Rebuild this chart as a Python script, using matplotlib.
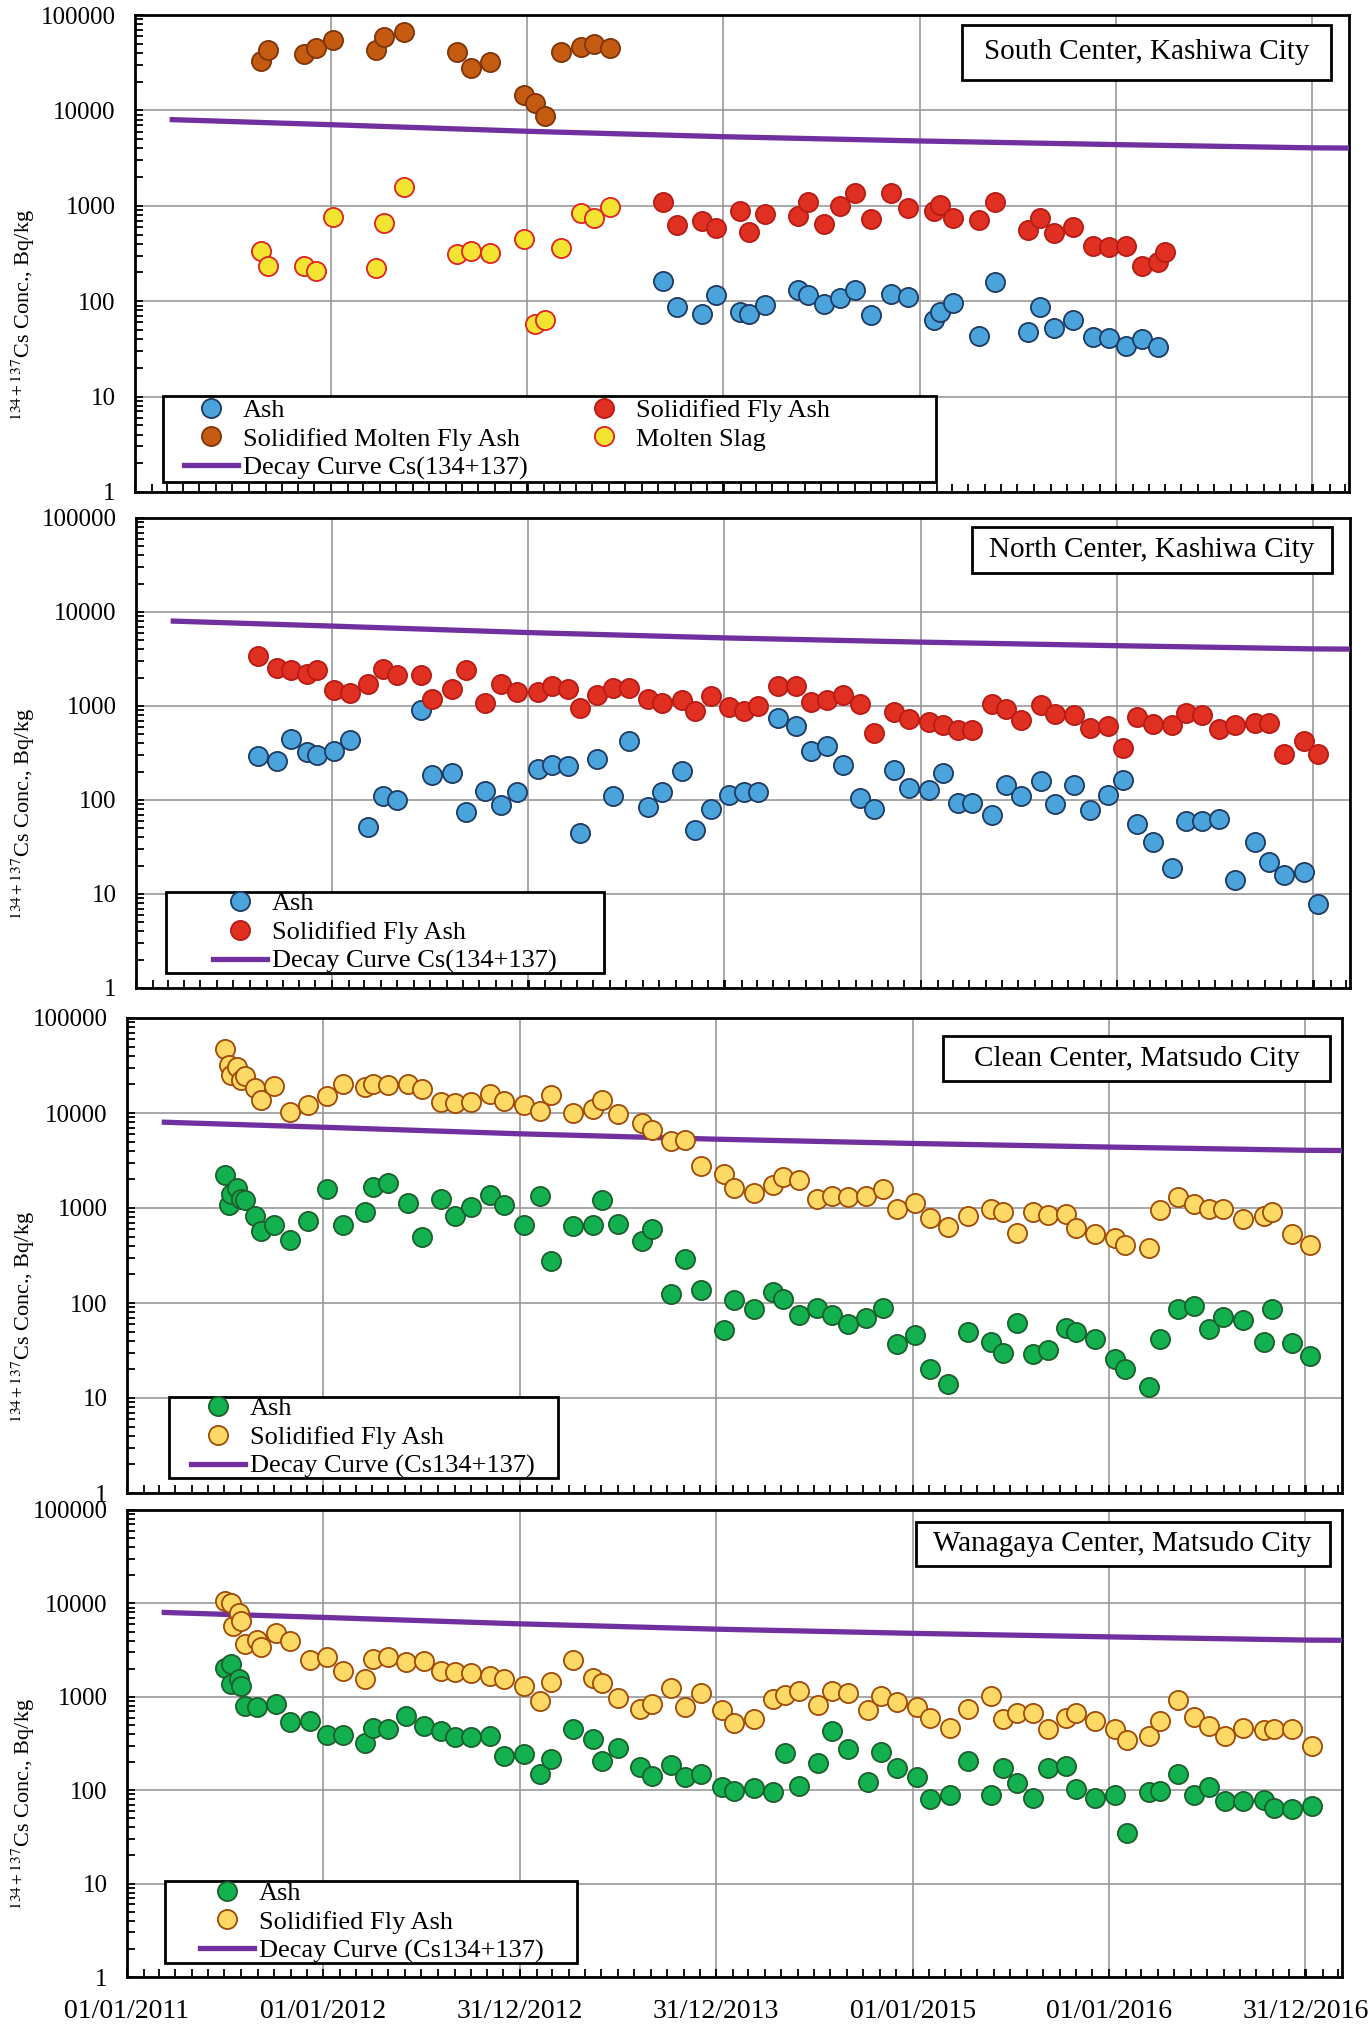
import numpy as np
import matplotlib
matplotlib.use('Agg')
import matplotlib.pyplot as plt
import matplotlib.dates as mdates
import matplotlib.ticker as mticker
from matplotlib.patches import Rectangle
from datetime import datetime

plt.rcParams['font.family'] = ['Liberation Serif', 'DejaVu Serif']
plt.rcParams['mathtext.fontset'] = 'stix'

# sampling times are given as decimal years
# ---- South Center, Kashiwa City ----
south_slag_t = [2011.64, 2011.68, 2011.86, 2011.92, 2012.01, 2012.23, 2012.27, 2012.37, 2012.64,
                2012.71, 2012.81, 2012.98, 2013.04, 2013.09, 2013.17, 2013.27, 2013.34, 2013.42]
south_molten_fly = [32900, 42900, 39000, 44700, 54700, 43000, 59300, 65700, 41200,
                    28000, 32400, 14500, 12000, 8800, 41200, 45800, 49700, 45400]
south_slag = [337, 233, 235, 208, 755, 224, 664, 1580, 311,
              337, 321, 451, 58, 64, 362, 845, 743, 977]
south_t = [2013.69, 2013.76, 2013.89, 2013.96, 2014.08, 2014.13, 2014.21, 2014.38, 2014.43, 2014.51,
           2014.59, 2014.67, 2014.75, 2014.85, 2014.94, 2015.07, 2015.10, 2015.17, 2015.30, 2015.38,
           2015.55, 2015.61, 2015.68, 2015.78, 2015.88, 2015.96, 2016.05, 2016.13, 2016.21, 2016.25]
south_fly = [1100, 627, 696, 579, 879, 525, 811, 785, 1100, 637,
             993, 1350, 724, 1350, 953, 879, 1020, 736, 708, 1085,
             556, 736, 513, 603, 380, 371, 377, 233, 259, 324]
south_ash = [163, 87, 74, 116, 77, 74, 91, 130, 116, 93,
             108, 132, 71, 120, 111, 63, 77, 96, 43, 160,
             47, 86, 52, 63, 42, 41, 34, 40, 33]

# ---- North Center, Kashiwa City ----
north_t = [2011.62, 2011.72, 2011.79, 2011.87, 2011.92, 2012.01, 2012.09, 2012.18, 2012.26, 2012.33,
           2012.45, 2012.51, 2012.61, 2012.68, 2012.78, 2012.86, 2012.94, 2013.05, 2013.12, 2013.20,
           2013.26, 2013.35, 2013.43, 2013.51, 2013.61, 2013.68, 2013.78, 2013.85, 2013.93, 2014.02,
           2014.10, 2014.17, 2014.27, 2014.36, 2014.44, 2014.52, 2014.60, 2014.69, 2014.76, 2014.86,
           2014.94, 2015.04, 2015.11, 2015.19, 2015.26, 2015.36, 2015.43, 2015.51, 2015.61, 2015.68,
           2015.78, 2015.86, 2015.95, 2016.03, 2016.10, 2016.18, 2016.28, 2016.35, 2016.43, 2016.52,
           2016.60, 2016.70, 2016.77, 2016.85, 2016.95, 2017.02]
north_fly = [3430, 2540, 2390, 2190, 2390, 1470, 1375, 1730, 2480, 2120,
             2150, 1200, 1520, 2390, 1070, 1730, 1410, 1410, 1620, 1530,
             953, 1320, 1550, 1550, 1200, 1080, 1150, 877, 1290, 976,
             877, 990, 1640, 1640, 1100, 1150, 1300, 1050, 516, 863,
             733, 676, 633, 560, 560, 1060, 929, 716, 1030, 829,
             809, 583, 608, 357, 764, 644, 633, 843, 809, 569,
             633, 659, 659, 308, 421, 308]
north_ash = [292, 262, 445, 324, 299, 330, 438, 52, 109, 101,
             914, 183, 194, 74, 126, 88, 122, 215, 234, 228,
             45, 275, 109, 428, 84, 122, 202, 48, 80, 112,
             122, 122, 744, 618, 335, 379, 238, 105, 80, 210,
             134, 129, 194, 94, 94, 70, 146, 111, 158, 91,
             143, 78, 114, 164, 55, 36, 19, 60, 60, 63,
             14, 36, 22, 16, 17, 7.9]

# ---- Clean Center, Matsudo City ----
clean_t = [2011.50, 2011.52, 2011.53, 2011.56, 2011.58, 2011.60, 2011.65, 2011.68, 2011.75, 2011.83,
           2011.92, 2012.02, 2012.10, 2012.21, 2012.25, 2012.33, 2012.43, 2012.50, 2012.60, 2012.67,
           2012.75, 2012.85, 2012.92, 2013.02, 2013.10, 2013.16, 2013.27, 2013.37, 2013.42, 2013.50,
           2013.62, 2013.67, 2013.77, 2013.84, 2013.92, 2014.04, 2014.09, 2014.19, 2014.29, 2014.34,
           2014.42, 2014.51, 2014.59, 2014.67, 2014.76, 2014.85, 2014.92, 2015.01, 2015.09, 2015.18,
           2015.28, 2015.40, 2015.46, 2015.53, 2015.61, 2015.69, 2015.78, 2015.83, 2015.93, 2016.03,
           2016.08, 2016.20, 2016.26, 2016.35, 2016.43, 2016.51, 2016.58, 2016.68, 2016.79, 2016.83,
           2016.93, 2017.02]
clean_fly = [47500, 31800, 24900, 30500, 22100, 24300, 18300, 13600, 19200, 10200,
             12200, 15100, 20400, 18800, 20400, 19600, 20400, 18000, 13100, 12700,
             13100, 16000, 13400, 12000, 10400, 15600, 10100, 10900, 13600, 9840,
             7910, 6680, 5080, 5160, 2770, 2300, 1620, 1450, 1730, 2120,
             1950, 1250, 1330, 1290, 1340, 1600, 984, 1130, 785, 631,
             824, 984, 908, 546, 908, 851, 872, 615, 528, 487,
             411, 379, 944, 1290, 1090, 969, 984, 760, 824, 908,
             528, 411]
clean_ash = [2240, 1080, 1420, 1620, 1250, 1200, 817, 568, 668, 457,
             725, 1600, 657, 908, 1660, 1850, 1140, 495, 1250, 817,
             1020, 1360, 1070, 657, 1340, 277, 647, 668, 1220, 673,
             445, 595, 125, 293, 136, 52, 107, 87, 131, 111,
             74, 89, 74, 60, 69, 89, 37, 46, 20, 14,
             49, 39, 30, 62, 29, 32, 55, 49, 42, 26,
             20, 13, 42, 87, 93, 53, 71, 67, 39, 86,
             38, 28]

# ---- Wanagaya Center, Matsudo City ----
wana_fly_t = [2011.50, 2011.53, 2011.54, 2011.57, 2011.58, 2011.60, 2011.66, 2011.68, 2011.76, 2011.83,
              2011.93, 2012.02, 2012.10, 2012.21, 2012.25, 2012.33, 2012.42, 2012.51, 2012.60, 2012.67,
              2012.75, 2012.85, 2012.92, 2013.02, 2013.10, 2013.16, 2013.27, 2013.37, 2013.42, 2013.50,
              2013.61, 2013.67, 2013.77, 2013.84, 2013.92, 2014.03, 2014.09, 2014.19, 2014.29, 2014.35,
              2014.42, 2014.52, 2014.59, 2014.67, 2014.77, 2014.84, 2014.92, 2015.02, 2015.09, 2015.19,
              2015.28, 2015.40, 2015.46, 2015.53, 2015.61, 2015.69, 2015.78, 2015.83, 2015.93, 2016.03,
              2016.09, 2016.20, 2016.26, 2016.35, 2016.43, 2016.51, 2016.59, 2016.68, 2016.79, 2016.84,
              2016.93, 2017.03]
wana_fly = [10500, 10200, 5770, 7870, 6410, 3660, 4080, 3410, 4810, 3910,
            2450, 2640, 1900, 1560, 2530, 2640, 2330, 2390, 1870, 1840,
            1820, 1680, 1560, 1320, 891, 1440, 2490, 1580, 1400, 967,
            738, 841, 1240, 774, 1110, 726, 523, 581, 944, 1050,
            1140, 821, 1160, 1090, 726, 1010, 869, 774, 591, 469,
            743, 1010, 581, 679, 668, 450, 591, 668, 557, 450,
            341, 382, 553, 929, 601, 481, 376, 462, 443, 450,
            450, 294]
wana_ash_t = [2011.50, 2011.53, 2011.53, 2011.57, 2011.58, 2011.60, 2011.66, 2011.76, 2011.83, 2011.93,
              2012.02, 2012.10, 2012.21, 2012.25, 2012.33, 2012.42, 2012.51, 2012.60, 2012.67, 2012.75,
              2012.85, 2012.92, 2013.02, 2013.10, 2013.16, 2013.27, 2013.37, 2013.42, 2013.50, 2013.61,
              2013.67, 2013.77, 2013.84, 2013.92, 2014.03, 2014.09, 2014.19, 2014.29, 2014.35, 2014.42,
              2014.52, 2014.59, 2014.67, 2014.77, 2014.84, 2014.92, 2015.02, 2015.09, 2015.19, 2015.28,
              2015.40, 2015.46, 2015.53, 2015.61, 2015.69, 2015.78, 2015.83, 2015.93, 2016.03, 2016.09,
              2016.20, 2016.26, 2016.35, 2016.43, 2016.51, 2016.59, 2016.68, 2016.79, 2016.84, 2016.93,
              2017.03]
wana_ash = [2030, 2240, 1380, 1560, 1290, 801, 774, 841, 531, 553,
            392, 392, 319, 462, 454, 616, 489, 432, 367, 370,
            376, 235, 245, 150, 217, 454, 352, 203, 282, 179,
            143, 184, 137, 148, 109, 97, 105, 95, 249, 111,
            195, 432, 275, 121, 259, 175, 138, 81, 89, 203,
            89, 172, 119, 83, 175, 182, 103, 83, 89, 35,
            95, 98, 150, 89, 108, 77, 76, 79, 64, 63,
            68]

# decay curve
decay_t = [2011.19, 2012.0, 2013.0, 2014.0, 2015.0, 2016.0, 2017.0, 2017.18]
decay_vals = [8000, 7080, 6040, 5300, 4780, 4380, 4050, 4030]

tick_dates = ['2011-01-01', '2012-01-01', '2012-12-31', '2013-12-31',
              '2015-01-01', '2016-01-01', '2016-12-31']
tick_labels = ['01/01/2011', '01/01/2012', '31/12/2012', '31/12/2013',
               '01/01/2015', '01/01/2016', '31/12/2016']
ytick_vals = [1, 10, 100, 1000, 10000, 100000]
ytick_labels = ['1', '10', '100', '1000', '10000', '100000']

BASE = mdates.date2num(datetime(2011, 1, 1))


def to_num(years):
    return BASE + (np.asarray(years) - 2011.0) * 365.25


W, H = 1371, 2025
fig = plt.figure(figsize=(W / 100, H / 100), dpi=100)

# panel boxes in pixels: left, top, right, bottom
boxes = [(135, 15, 1349, 492), (136, 518, 1350, 988),
         (127, 1018, 1342, 1493), (127, 1510, 1342, 1977)]
axes = []
for (l, t, r, b) in boxes:
    ax = fig.add_axes([l / W, (H - b) / H, (r - l) / W, (b - t) / H])
    axes.append(ax)

c_blue, e_blue = '#4aa3da', '#1f3a63'
c_red, e_red = '#e03022', '#b81c16'
c_brown, e_brown = '#c55a11', '#7f3508'
c_yel, e_yel = '#f3e432', '#e02222'
c_green, e_green = '#12b04f', '#1c5f2c'
c_lor, e_lor = '#ffd966', '#a04a08'
purple = '#7030a0'
MS = 13.8
FS_LEG = 19


def pts(ax, t, v, fc, ec, label):
    return ax.plot(to_num(t), v, 'o', ms=MS, mfc=fc, mec=ec, mew=1.3,
                   linestyle='none', label=label, zorder=4)[0]


def decay(ax, label):
    return ax.plot(to_num(decay_t), decay_vals, '-', color=purple, lw=3.8,
                   label=label, zorder=3)[0]


def style(ax, i, bottom=False):
    ax.set_yscale('log')
    ax.set_ylim(1, 100000)
    ax.set_xlim(to_num([2011.0])[0], to_num([2017.185])[0])
    ax.set_yticks(ytick_vals)
    ax.set_yticklabels(ytick_labels)
    ax.yaxis.set_minor_locator(mticker.LogLocator(base=10, subs=np.arange(2, 10)))
    ax.yaxis.set_minor_formatter(mticker.NullFormatter())
    ax.set_xticks([mdates.datestr2num(d) for d in tick_dates])
    ax.xaxis.set_minor_locator(mdates.MonthLocator())
    if bottom:
        ax.set_xticklabels(tick_labels, fontsize=20)
    else:
        ax.set_xticklabels([])
    ax.tick_params(axis='both', which='both', direction='in', right=False, top=False,
                   width=1.3, color='black')
    ax.tick_params(axis='both', which='major', length=6)
    ax.tick_params(axis='both', which='minor', length=6)
    ax.tick_params(axis='y', labelsize=18, pad=14)
    ax.tick_params(axis='x', pad=16)
    ax.grid(True, which='major', color='#999999', lw=1.2)
    ax.set_axisbelow(True)
    for s in ax.spines.values():
        s.set_linewidth(2.0)
        s.set_color('black')
    l, t, r, b = boxes[i]
    yc = (H - (b - 0.37 * (b - t))) / H
    fig.text(23 / W, yc, r'$^{134+137}$Cs Conc., Bq/kg', fontsize=16,
             rotation=90, ha='center', va='center')


def ax_xy(i, px, py):
    l, t, r, b = boxes[i]
    return (px - l) / (r - l), (b - py) / (b - t)


def station(ax, x0, x1, y0, y1, text):
    ax.add_patch(Rectangle((x0, y0), x1 - x0, y1 - y0, transform=ax.transAxes,
                           fc='white', ec='black', lw=2.0, zorder=6, clip_on=False))
    ax.text((x0 + x1) / 2, (y0 + y1) / 2, text, transform=ax.transAxes,
            ha='center', va='center', fontsize=21, zorder=7)


def legend(ax, i, handles, frame_px, content_left, ncol=1, colsp=1.86):
    fx0, fy1 = ax_xy(i, frame_px[0], frame_px[1])
    fx1, fy0 = ax_xy(i, frame_px[2], frame_px[3])
    ax.add_patch(Rectangle((fx0, fy0), fx1 - fx0, fy1 - fy0, transform=ax.transAxes,
                           fc='white', ec='black', lw=2.0, zorder=7, clip_on=False))
    cx, cy = ax_xy(i, content_left, (frame_px[1] + frame_px[3]) / 2)
    leg = ax.legend(handles=handles, loc='center left', bbox_to_anchor=(cx, cy),
                    ncol=ncol, fontsize=FS_LEG, frameon=False, borderpad=0.0,
                    labelspacing=0.2, handlelength=2.05, handletextpad=0.19,
                    borderaxespad=0.0, columnspacing=colsp)
    leg.set_zorder(8)


# panel 1
ax = axes[0]
dl = decay(ax, 'Decay Curve Cs(134+137)')
h_ash = pts(ax, south_t[:len(south_ash)], south_ash, c_blue, e_blue, 'Ash')
h_fly = pts(ax, south_t, south_fly, c_red, e_red, 'Solidified Fly Ash')
h_mfa = pts(ax, south_slag_t, south_molten_fly, c_brown, e_brown, 'Solidified Molten Fly Ash')
h_slag = pts(ax, south_slag_t, south_slag, c_yel, e_yel, 'Molten Slag')
style(ax, 0)
station(ax, 0.681, 0.985, 0.864, 0.979, 'South Center, Kashiwa City')
legend(ax, 0, [h_ash, h_mfa, dl, h_fly, h_slag], (163, 396, 936, 482), 184, ncol=2)

# panel 2
ax = axes[1]
dl = decay(ax, 'Decay Curve Cs(134+137)')
h_ash = pts(ax, north_t, north_ash, c_blue, e_blue, 'Ash')
h_fly = pts(ax, north_t, north_fly, c_red, e_red, 'Solidified Fly Ash')
style(ax, 1)
station(ax, 0.689, 0.985, 0.883, 0.981, 'North Center, Kashiwa City')
legend(ax, 1, [h_ash, h_fly, dl], (166, 892, 604, 973), 213)

# panel 3
ax = axes[2]
dl = decay(ax, 'Decay Curve (Cs134+137)')
h_ash = pts(ax, clean_t, clean_ash, c_green, e_green, 'Ash')
h_fly = pts(ax, clean_t, clean_fly, c_lor, e_lor, 'Solidified Fly Ash')
style(ax, 2)
station(ax, 0.672, 0.990, 0.867, 0.962, 'Clean Center, Matsudo City')
legend(ax, 2, [h_ash, h_fly, dl], (169, 1397, 558, 1478), 191)

# panel 4
ax = axes[3]
dl = decay(ax, 'Decay Curve (Cs134+137)')
h_ash = pts(ax, wana_ash_t, wana_ash, c_green, e_green, 'Ash')
h_fly = pts(ax, wana_fly_t, wana_fly, c_lor, e_lor, 'Solidified Fly Ash')
style(ax, 3, bottom=True)
station(ax, 0.649, 0.990, 0.880, 0.974, 'Wanagaya Center, Matsudo City')
legend(ax, 3, [h_ash, h_fly, dl], (165, 1881, 577, 1963), 200)

fig.savefig('out.png', dpi=100)
